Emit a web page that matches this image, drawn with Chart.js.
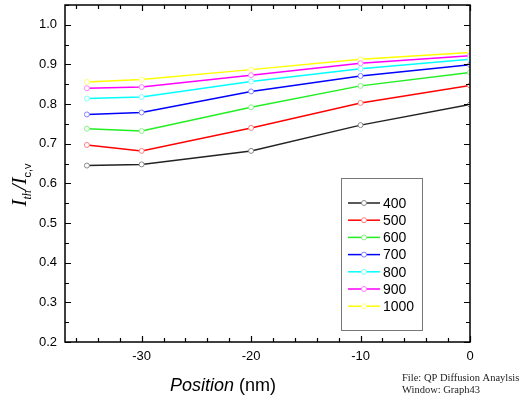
<!DOCTYPE html>
<html>
<head>
<meta charset="utf-8">
<script src="https://cdn.jsdelivr.net/npm/chart.js@4"></script>
<style>
  html, body { margin: 0; padding: 0; background: #fff; }
  #wrap { width: 520px; height: 400px; position: relative; }
</style>
</head>
<body>
<div id="wrap"><canvas id="graph43"></canvas></div>
<script>
// positions (nm) and the normalised current for each temperature
const positions = [-35, -30, -20, -10, 0];
const seriesNames = ["400", "500", "600", "700", "800", "900", "1000"];
const s400 = [0.645, 0.648, 0.682, 0.747, 0.799];
const s500 = [0.697, 0.682, 0.740, 0.803, 0.847];
const s600 = [0.738, 0.732, 0.792, 0.846, 0.880];
const s700 = [0.774, 0.779, 0.832, 0.871, 0.899];
const s800 = [0.814, 0.818, 0.857, 0.889, 0.913];
const s900 = [0.840, 0.843, 0.873, 0.903, 0.922];
const s1000 = [0.856, 0.862, 0.887, 0.913, 0.930];
const xTicks = [-30, -20, -10, 0];
const yTicks = [0.2, 0.3, 0.4, 0.5, 0.6, 0.7, 0.8, 0.9, 1.0];

const allSeries = [s400, s500, s600, s700, s800, s900, s1000];
const lineColors = ["#222222", "#ff0000", "#22ee22", "#0000ff", "#00ffff", "#ff00ff", "#ffff00"];
const markColors = ["#888888", "#ff8080", "#88f088", "#8080ff", "#80ffff", "#ff80ff", "#ffff80"];

const datasets = allSeries.map(function (vals, i) {
  return {
    label: seriesNames[i],
    data: vals.map(function (v, j) { return { x: positions[j], y: v }; }),
    borderColor: lineColors[i],
    borderWidth: 1.5,
    pointRadius: 2.5,
    pointBorderWidth: 1,
    pointBorderColor: markColors[i],
    pointBackgroundColor: "#ffffff",
    tension: 0
  };
});

// frame, inward ticks, legend box and titles
const framePlugin = {
  id: "frame",
  afterDraw: function (chart) {
    const ctx = chart.ctx;
    const a = chart.chartArea;
    const xs = chart.scales.x;
    const ys = chart.scales.y;
    ctx.save();
    ctx.strokeStyle = "#000";
    ctx.lineWidth = 1.5;
    ctx.strokeRect(a.left, a.top, a.right - a.left, a.bottom - a.top);

    ctx.lineWidth = 1.2;
    ctx.beginPath();
    for (let v = -36; v <= 0; v += 2) {
      const px = Math.round(xs.getPixelForValue(v)) + 0.5;
      const len = v % 10 === 0 ? 6 : 4;
      ctx.moveTo(px, a.bottom); ctx.lineTo(px, a.bottom - len);
      ctx.moveTo(px, a.top); ctx.lineTo(px, a.top + len);
    }
    for (let k = 4; k <= 21; k++) {
      const v = k * 0.05;
      const py = Math.round(ys.getPixelForValue(v)) + 0.5;
      const len = k % 2 === 0 ? 6 : 4;
      ctx.moveTo(a.left, py); ctx.lineTo(a.left + len, py);
      ctx.moveTo(a.right, py); ctx.lineTo(a.right - len, py);
    }
    ctx.stroke();

    // legend
    const lx = 341, ly = 178, lw = 81, lh = 152;
    ctx.strokeStyle = "#777";
    ctx.lineWidth = 1;
    ctx.strokeRect(lx + 0.5, ly + 0.5, lw, lh);
    ctx.font = "14px 'Liberation Sans', Arial, sans-serif";
    ctx.textBaseline = "middle";
    ctx.textAlign = "left";
    chart.data.datasets.forEach(function (ds, i) {
      const y = 203 + i * 17.2;
      ctx.strokeStyle = ds.borderColor;
      ctx.lineWidth = 1.5;
      ctx.beginPath();
      ctx.moveTo(348, y); ctx.lineTo(380, y);
      ctx.stroke();
      ctx.beginPath();
      ctx.arc(364, y, 2.5, 0, Math.PI * 2);
      ctx.fillStyle = "#fff";
      ctx.fill();
      ctx.strokeStyle = ds.pointBorderColor;
      ctx.lineWidth = 1;
      ctx.stroke();
      ctx.fillStyle = "#000";
      ctx.fillText(ds.label, 383, y + 1);
    });

    // x title: "Position (nm)"
    ctx.fillStyle = "#000";
    ctx.textBaseline = "alphabetic";
    const f1 = "italic 18px 'Liberation Sans', Arial, sans-serif";
    const f2 = "18px 'Liberation Sans', Arial, sans-serif";
    ctx.font = f1;
    const w1 = ctx.measureText("Position").width;
    ctx.font = f2;
    const w2 = ctx.measureText(" (nm)").width;
    const x0 = 223 - (w1 + w2) / 2;
    ctx.font = f1;
    ctx.fillText("Position", x0, 391);
    ctx.font = f2;
    ctx.fillText(" (nm)", x0 + w1, 391);

    // y title: I_th / I_c,v
    ctx.save();
    ctx.translate(26, 185);
    ctx.rotate(-Math.PI / 2);
    const big = "italic 21px 'Liberation Serif', 'Times New Roman', serif";
    const sub = "italic 12px 'Liberation Serif', 'Times New Roman', serif";
    const sub2 = "11px 'Liberation Sans', Arial, sans-serif";
    const parts = [
      { t: "I", f: big, dy: 0 },
      { t: "th", f: sub, dy: 5 },
      { t: "/", f: big, dy: 0 },
      { t: "I", f: big, dy: 0 },
      { t: "c,v", f: sub2, dy: 5 }
    ];
    let total = 0;
    parts.forEach(function (p) { ctx.font = p.f; p.w = ctx.measureText(p.t).width; total += p.w; });
    let cx = -total / 2;
    parts.forEach(function (p) {
      ctx.font = p.f;
      ctx.fillText(p.t, cx, p.dy);
      cx += p.w;
    });
    ctx.restore();

    // window note
    ctx.font = "10.5px 'Liberation Serif', 'Times New Roman', serif";
    ctx.fillStyle = "#222";
    ctx.fillText("File: QP Diffusion Anaylsis", 402, 381);
    ctx.fillText("Window: Graph43", 402, 393);
    ctx.restore();
  }
};

const tickFont = { family: "'Liberation Sans', Arial, sans-serif", size: 13 };

new Chart(document.getElementById("graph43").getContext("2d"), {
  type: "line",
  data: { datasets: datasets },
  options: {
    responsive: true,
    maintainAspectRatio: false,
    animation: false,
    layout: { padding: { top: 4, right: 50, left: 0, bottom: 0 } },
    plugins: { legend: { display: false }, tooltip: { enabled: false } },
    scales: {
      x: {
        type: "linear",
        min: -37,
        max: 0,
        grid: { display: false, drawTicks: false },
        border: { display: false },
        ticks: { color: "#000", font: tickFont, padding: 7, maxRotation: 0 },
        afterBuildTicks: function (s) { s.ticks = xTicks.map(function (v) { return { value: v }; }); },
        afterFit: function (s) { s.height = 58; s.paddingLeft = 0; s.paddingRight = 0; }
      },
      y: {
        min: 0.2,
        max: 1.05,
        grid: { display: false, drawTicks: false },
        border: { display: false },
        ticks: {
          color: "#000", font: tickFont, padding: 8,
          callback: function (v) { return Number(v).toFixed(1); }
        },
        afterBuildTicks: function (s) { s.ticks = yTicks.map(function (v) { return { value: v }; }); },
        afterFit: function (s) { s.width = 65; s.paddingTop = 0; s.paddingBottom = 0; }
      }
    }
  },
  plugins: [framePlugin]
});
</script>
</body>
</html>
